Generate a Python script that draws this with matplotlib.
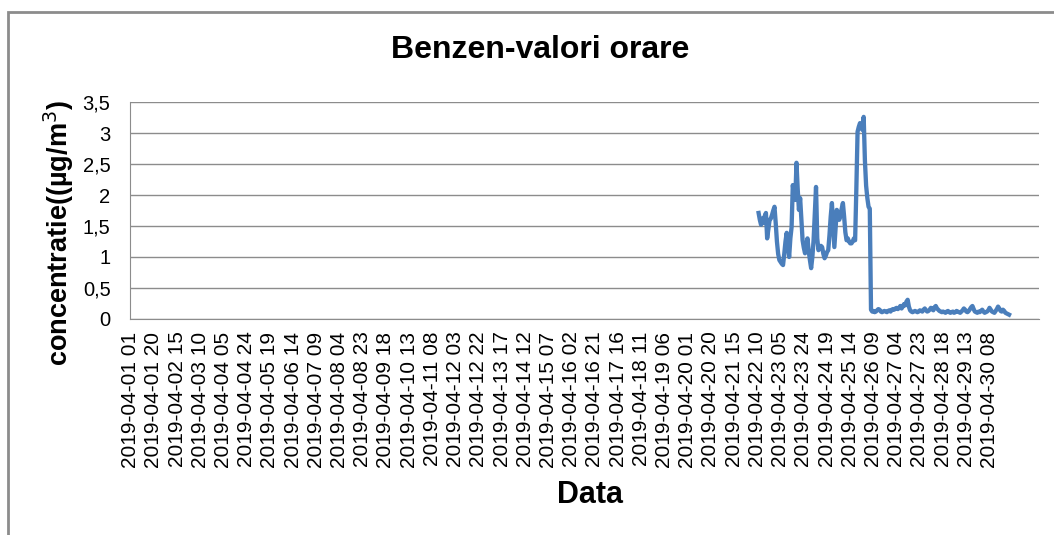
import numpy as np
import matplotlib.pyplot as plt
from matplotlib.patches import Rectangle

plt.rcParams['font.family'] = ['Liberation Sans', 'DejaVu Sans']

# categorii orare 2019-04-01 01 ... 2019-04-30 24 (ora 01..24)
days = list(range(1, 31))
hours = list(range(1, 25))
categories = ['2019-04-%02d %02d' % (d, h) for d in days for h in hours]
n_blank = 24  # randuri goale la finalul domeniului

first_idx = 514  # 2019-04-22 11
benzen = [
    1.71, 1.60, 1.52, 1.62, 1.55, 1.66, 1.71, 1.30, 1.45, 1.60,
    1.62, 1.68, 1.75, 1.81, 1.55, 1.25, 1.05, 0.95, 0.92, 0.89,
    0.87, 1.05, 1.25, 1.39, 1.20, 1.00, 1.30, 1.48, 2.16, 2.00,
    1.92, 2.52, 2.10, 1.76, 1.95, 1.60, 1.27, 1.15, 1.06, 1.18,
    1.30, 1.10, 0.95, 0.82, 1.00, 1.27, 1.70, 2.13, 1.30, 1.11,
    1.15, 1.18, 1.16, 1.05, 0.98, 1.02, 1.08, 1.11, 1.35, 1.65,
    1.87, 1.50, 1.16, 1.45, 1.76, 1.70, 1.60, 1.68, 1.78, 1.87,
    1.65, 1.40, 1.27, 1.30, 1.25, 1.22, 1.22, 1.25, 1.30, 1.27,
    2.10, 3.02, 3.10, 3.16, 3.08, 3.05, 3.26, 2.56, 2.15, 1.95,
    1.81, 1.78, 0.15,
    0.12, 0.13, 0.11, 0.12, 0.14, 0.16, 0.15, 0.12, 0.11, 0.12, 0.13, 0.12, 0.11, 0.13,
    0.14, 0.12, 0.15, 0.16, 0.15, 0.17, 0.18, 0.16, 0.18, 0.21,
    0.17, 0.20, 0.24, 0.22, 0.28, 0.31, 0.20, 0.14, 0.12, 0.11,
    0.12, 0.13, 0.12, 0.11, 0.12, 0.14, 0.13, 0.12, 0.15, 0.17,
    0.14, 0.12, 0.13, 0.15, 0.18, 0.16, 0.14, 0.19, 0.21, 0.17,
    0.15, 0.13, 0.12, 0.11, 0.12, 0.11, 0.10, 0.12, 0.13, 0.11,
    0.10, 0.11, 0.12, 0.10, 0.11, 0.13, 0.12, 0.11, 0.10, 0.12,
    0.14, 0.17, 0.15, 0.12, 0.11, 0.13, 0.16, 0.19, 0.21, 0.16,
    0.12, 0.11, 0.10, 0.12, 0.11, 0.13, 0.15, 0.12, 0.10, 0.11,
    0.12, 0.14, 0.18, 0.15, 0.12, 0.11, 0.10, 0.13, 0.16, 0.20,
    0.17, 0.13, 0.12, 0.15, 0.13, 0.10, 0.09, 0.08, 0.07,
]

y_ticks = [0, 0.5, 1, 1.5, 2, 2.5, 3, 3.5]
y_labels = ['0', '0,5', '1', '1,5', '2', '2,5', '3', '3,5']

n_cat = len(categories)
x = np.arange(first_idx, first_idx + len(benzen))

fig = plt.figure(figsize=(10.54, 5.35), dpi=100)
# chenarul graficului
fig.patches.append(Rectangle((8 / 1054, -0.1), 1.2, (535 - 12) / 535 + 0.1,
                             transform=fig.transFigure, fill=False,
                             edgecolor='#8c8c8c', linewidth=2))

ax = fig.add_axes([130 / 1054, (535 - 319) / 535, 909 / 1054, 217 / 535])
ax.plot(x, benzen, color='#4a7ebb', linewidth=3.1, solid_joinstyle='round')

ax.set_xlim(-0.5, n_cat + n_blank - 0.5)
ax.set_ylim(0, 3.5)
ax.set_yticks(y_ticks)
ax.set_yticklabels(y_labels, fontsize=14.5)
ticks = list(range(0, n_cat, 19))
ax.set_xticks(ticks)
ax.set_xticklabels([categories[i] for i in ticks], rotation=90, fontsize=15)
ax.tick_params(axis='both', length=0)
ax.tick_params(axis='y', pad=14)
ax.tick_params(axis='x', pad=9)

ax.grid(axis='y', color='#8c8c8c', linewidth=1)
ax.set_axisbelow(True)
for s in ['top', 'right']:
    ax.spines[s].set_visible(False)
ax.spines['left'].set_color('#8c8c8c')
ax.spines['bottom'].set_color('#8c8c8c')

fig.text(540 / 1054, 1 - 50 / 535, 'Benzen-valori orare', ha='center', va='center',
         fontsize=23, fontweight='bold')
fig.text(590 / 1054, 1 - 495 / 535, 'Data', ha='center', va='center',
         fontsize=22, fontweight='bold')
fig.text(59 / 1054, 1 - 233 / 535, 'concentratie((µg/m$^3$)', ha='center', va='center',
         rotation=90, fontsize=19.5, fontweight='bold')

fig.savefig('out.png', dpi=100)
